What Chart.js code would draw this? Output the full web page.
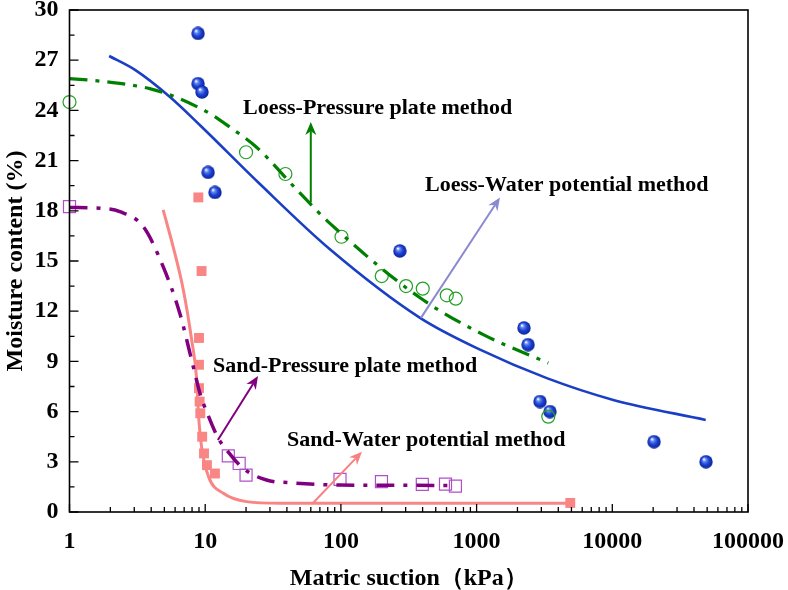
<!DOCTYPE html>
<html><head><meta charset="utf-8">
<script src="https://cdn.jsdelivr.net/npm/chart.js@4.4.1/dist/chart.umd.min.js"></script>
<style>html,body{margin:0;padding:0;background:#fff}#wrap{width:788px;height:590px}</style>
</head><body><div id="wrap"><canvas id="c" width="788" height="590"></canvas></div>
<script>
// ---- tick values / labels ----
const xTickValues = [1, 10, 100, 1000, 10000, 100000];
const xTickLabels = ['1', '10', '100', '1000', '10000', '100000'];
const xMinorTicks = [2,3,4,5,6,7,8,9,20,30,40,50,60,70,80,90,200,300,400,500,600,700,800,900,2000,3000,4000,5000,6000,7000,8000,9000,20000,30000,40000,50000,60000,70000,80000,90000];
const yTickValues = [0, 3, 6, 9, 12, 15, 18, 21, 24, 27, 30];
const yMinorTicks = [1.5, 4.5, 7.5, 10.5, 13.5, 16.5, 19.5, 22.5, 25.5, 28.5];
const xTitle = 'Matric suction（kPa）';
const yTitle = 'Moisture content (%)';

// ---- Loess, water potential method (measured, spheres) ----
const loessWPx = [8.85, 8.85, 9.47, 10.5, 11.8, 272, 2235, 2393, 2930, 3470, 20300, 49000];
const loessWPy = [28.6, 25.6, 25.1, 20.3, 19.1, 15.6, 11.0, 10.0, 6.6, 6.0, 4.2, 3.0];
// fitted curve (solid blue)
const loessWPfitX = [1.96, 3.04, 5.5, 9.2, 25.3, 83, 383, 1060, 3290, 10170, 48800];
const loessWPfitY = [27.25, 26.42, 24.8, 23.1, 19.6, 15.7, 11.6, 9.7, 8.0, 6.7, 5.5];

// ---- Loess, pressure plate method (open circles) ----
const loessPPx = [1, 20, 39, 101, 200, 302, 401, 603, 702, 3375];
const loessPPy = [24.5, 21.5, 20.2, 16.45, 14.1, 13.5, 13.35, 12.95, 12.75, 5.7];
// fitted curve (green dash-dot)
const loessPPfitX = [1, 1.68, 3.9, 6.5, 11.4, 15.2, 23.9, 50, 83, 383, 1120, 3375];
const loessPPfitY = [25.9, 25.75, 25.3, 24.7, 23.7, 23.0, 21.8, 19.05, 17.25, 12.8, 10.6, 8.9];

// ---- Sand, pressure plate method (filled pink squares) ----
const sandPPx = [8.9, 9.4, 9.0, 9.0, 9.0, 9.1, 9.2, 9.5, 9.8, 10.3, 11.8, 4900];
const sandPPy = [18.8, 14.4, 10.4, 8.8, 7.4, 6.6, 5.9, 4.5, 3.5, 2.8, 2.3, 0.54];
// fitted curve (solid pink)
const sandPPfitX = [4.9, 5.8, 6.9, 7.95, 8.66, 8.91, 9.4, 10.6, 13.6, 20.2, 35.5, 100, 1000, 4900];
const sandPPfitY = [18.05, 15.86, 13.27, 10.28, 7.9, 5.9, 3.9, 2.1, 1.12, 0.62, 0.52, 0.52, 0.52, 0.52];

// ---- Sand, water potential method (open purple squares) ----
const sandWPx = [1, 14.8, 17.8, 20, 98.5, 199, 398, 590, 698];
const sandWPy = [18.25, 3.35, 2.9, 2.2, 1.95, 1.81, 1.65, 1.67, 1.55];
// fitted curve (purple dash-dot)
const sandWPfitX = [1, 1.68, 2.35, 3.5, 4.9, 6.5, 8.17, 9.15, 10.6, 12.5, 14.4, 19.1, 28.3, 42, 98.5, 300, 698];
const sandWPfitY = [18.2, 18.15, 17.95, 17.05, 14.66, 11.87, 8.68, 7.09, 5.7, 4.4, 3.7, 2.6, 1.91, 1.75, 1.61, 1.6, 1.58];

// ---- annotations (data coordinates) ----
const labelTexts = ['Loess-Pressure plate method', 'Loess-Water potential method', 'Sand-Pressure plate method', 'Sand-Water potential method'];
const labelX = [19.0, 417, 11.4, 40];
const labelY = [24.15, 19.55, 8.73, 4.3];
const arrowFromX = [60, 389, 12.4, 62.3];
const arrowFromY = [18.5, 11.6, 4.3, 0.54];
const arrowToX = [60, 1487, 24.5, 143];
const arrowToY = [23.3, 18.8, 8.13, 3.6];
const arrowColors = ['#008000', '#8a8ad0', '#800080', '#f88080'];

const pts = (xs, ys) => xs.map((x, i) => ({x: x, y: ys[i]}));
const SERIF = "'Liberation Serif','Times New Roman',serif";

function makeSphere(d) {
  const c = document.createElement('canvas');
  c.width = c.height = d;
  const g = c.getContext('2d');
  const r = d / 2;
  const grad = g.createRadialGradient(r * 0.7, r * 0.62, r * 0.05, r, r, r);
  grad.addColorStop(0, '#ffffff');
  grad.addColorStop(0.22, '#6a8af2');
  grad.addColorStop(0.55, '#1d44d6');
  grad.addColorStop(1, '#0a2090');
  g.fillStyle = grad;
  g.beginPath(); g.arc(r, r, r - 0.3, 0, Math.PI * 2); g.fill();
  return c;
}
const sphere = makeSphere(14);

const fitBase = {showLine: true, pointRadius: 0, pointHoverRadius: 0, fill: false, cubicInterpolationMode: 'monotone', clip: false};
const ptBase = {showLine: false, clip: false};

const decorPlugin = {
  id: 'decor',
  afterDatasetsDraw(chart) {
    const ctx = chart.ctx, xs = chart.scales.x, ys = chart.scales.y, a = chart.chartArea;
    ctx.save();
    ctx.strokeStyle = '#000';
    ctx.lineWidth = 1.6;
    ctx.strokeRect(a.left, a.top, a.right - a.left, a.bottom - a.top);
    ctx.lineWidth = 1.3;
    ctx.beginPath();
    xTickValues.forEach(v => { const p = xs.getPixelForValue(v); ctx.moveTo(p, a.bottom); ctx.lineTo(p, a.bottom - 8); });
    xMinorTicks.forEach(v => { const p = xs.getPixelForValue(v); ctx.moveTo(p, a.bottom); ctx.lineTo(p, a.bottom - 5); });
    yTickValues.forEach(v => { const p = ys.getPixelForValue(v); ctx.moveTo(a.left, p); ctx.lineTo(a.left + 9, p); });
    yMinorTicks.forEach(v => { const p = ys.getPixelForValue(v); ctx.moveTo(a.left, p); ctx.lineTo(a.left + 5, p); });
    ctx.stroke();

    // arrows
    for (let i = 0; i < arrowFromX.length; i++) {
      const x1 = xs.getPixelForValue(arrowFromX[i]), y1 = ys.getPixelForValue(arrowFromY[i]);
      const x2 = xs.getPixelForValue(arrowToX[i]), y2 = ys.getPixelForValue(arrowToY[i]);
      const ang = Math.atan2(y2 - y1, x2 - x1);
      const hl = 13, hw = 5.5;
      ctx.strokeStyle = arrowColors[i]; ctx.fillStyle = arrowColors[i];
      ctx.lineWidth = 2;
      ctx.beginPath(); ctx.moveTo(x1, y1);
      ctx.lineTo(x2 - Math.cos(ang) * hl * 0.7, y2 - Math.sin(ang) * hl * 0.7); ctx.stroke();
      ctx.beginPath();
      ctx.moveTo(x2, y2);
      ctx.lineTo(x2 - Math.cos(ang) * hl - Math.sin(ang) * hw, y2 - Math.sin(ang) * hl + Math.cos(ang) * hw);
      ctx.lineTo(x2 - Math.cos(ang) * hl * 0.7, y2 - Math.sin(ang) * hl * 0.7);
      ctx.lineTo(x2 - Math.cos(ang) * hl + Math.sin(ang) * hw, y2 - Math.sin(ang) * hl - Math.cos(ang) * hw);
      ctx.closePath(); ctx.fill();
    }
    // labels
    ctx.fillStyle = '#000';
    ctx.font = 'bold 22px ' + SERIF;
    ctx.textAlign = 'left'; ctx.textBaseline = 'middle';
    labelTexts.forEach((t, i) => ctx.fillText(t, xs.getPixelForValue(labelX[i]), ys.getPixelForValue(labelY[i])));
    ctx.restore();
  }
};

const axisFont = {family: SERIF, size: 24, weight: 'bold'};

new Chart(document.getElementById('c'), {
  type: 'scatter',
  data: {
    datasets: [
      Object.assign({}, fitBase, {label: 'Sand WP fit', data: pts(sandWPfitX, sandWPfitY), borderColor: '#800080', borderWidth: 3.5, borderDash: [18, 9, 4, 9]}),
      Object.assign({}, fitBase, {label: 'Sand PP fit', data: pts(sandPPfitX, sandPPfitY), borderColor: '#f98585', borderWidth: 3}),
      Object.assign({}, fitBase, {label: 'Loess PP fit', data: pts(loessPPfitX, loessPPfitY), borderColor: '#008000', borderWidth: 3.2, borderDash: [18, 8, 4, 8]}),
      Object.assign({}, fitBase, {label: 'Loess WP fit', data: pts(loessWPfitX, loessWPfitY), borderColor: '#1a3fc4', borderWidth: 2.6}),
      Object.assign({}, ptBase, {label: 'Sand PP', data: pts(sandPPx, sandPPy), pointStyle: 'rect', pointRadius: 7, backgroundColor: '#f98585', borderColor: '#f98585', borderWidth: 0}),
      Object.assign({}, ptBase, {label: 'Sand WP', data: pts(sandWPx, sandWPy), pointStyle: 'rect', pointRadius: 8.5, backgroundColor: 'rgba(0,0,0,0)', borderColor: '#b050c8', borderWidth: 1.2}),
      Object.assign({}, ptBase, {label: 'Loess PP', data: pts(loessPPx, loessPPy), pointStyle: 'circle', pointRadius: 6.5, backgroundColor: 'rgba(0,0,0,0)', borderColor: '#22a022', borderWidth: 1.2}),
      Object.assign({}, ptBase, {label: 'Loess WP', data: pts(loessWPx, loessWPy), pointStyle: sphere, pointRadius: 7})
    ]
  },
  options: {
    responsive: false,
    animation: false,
    layout: {padding: {top: 10, right: 40, left: 0, bottom: 0}},
    plugins: {legend: {display: false}, tooltip: {enabled: false}},
    scales: {
      x: {
        type: 'logarithmic', min: 1, max: 100000,
        afterBuildTicks: s => { s.ticks = xTickValues.map(v => ({value: v})); },
        afterFit: s => { s.height = 78; s.paddingLeft = 0; s.paddingRight = 0; s.paddingTop = 0; s.paddingBottom = 0; },
        grid: {display: false, drawTicks: false},
        border: {display: false},
        ticks: {autoSkip: false, maxRotation: 0, padding: 15, color: '#000', font: axisFont,
          callback: (v, i) => xTickLabels[i]},
        title: {display: true, text: xTitle, color: '#000', font: axisFont, padding: {top: 0, bottom: -3}}
      },
      y: {
        type: 'linear', min: 0, max: 30,
        afterBuildTicks: s => { s.ticks = yTickValues.map(v => ({value: v})); },
        afterFit: s => { s.width = 69.5; s.paddingLeft = 0; s.paddingRight = 0; s.paddingTop = 0; s.paddingBottom = 0; },
        grid: {display: false, drawTicks: false},
        border: {display: false},
        ticks: {autoSkip: false, padding: 11, color: '#000', font: axisFont,
          callback: (v, i) => String(yTickValues[i])},
        title: {display: true, text: yTitle, color: '#000', font: axisFont, padding: {top: 1, bottom: 0}}
      }
    }
  },
  plugins: [decorPlugin]
});
</script></body></html>
